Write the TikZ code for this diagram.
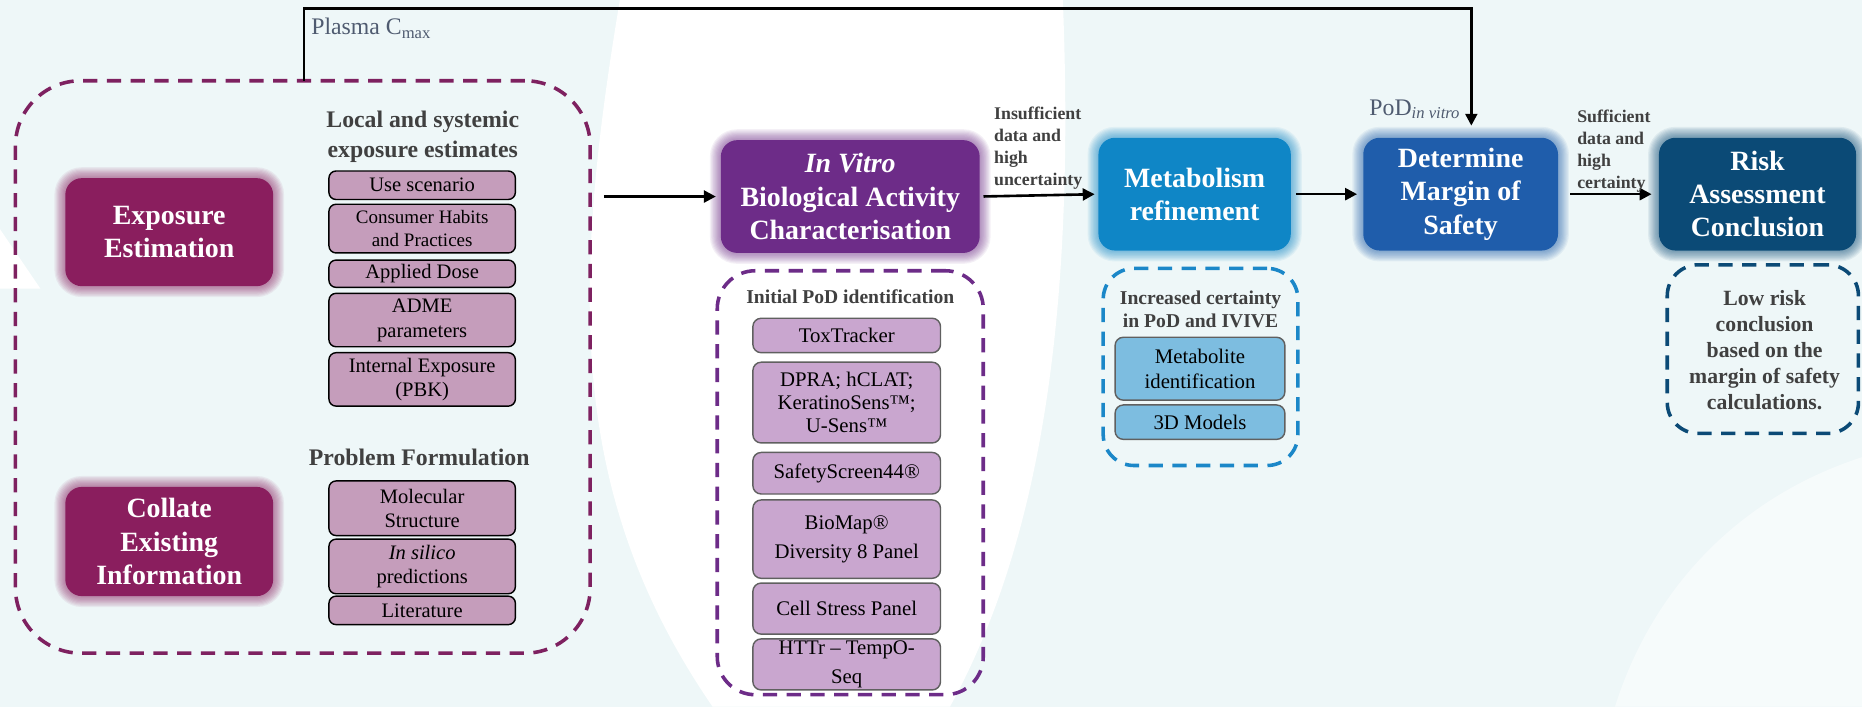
\documentclass[tikz,border=0pt]{standalone}
\usepackage{fontspec}
\setmainfont{Liberation Serif}
\usetikzlibrary{arrows.meta,calc}
\definecolor{bgc}{HTML}{EEF7F8}
\definecolor{maroon}{HTML}{8A1E5E}
\definecolor{maroonD}{HTML}{7E2160}
\definecolor{mauveL}{HTML}{C59DBB}
\definecolor{purp}{HTML}{6D2C88}
\definecolor{lavP}{HTML}{C9A6CF}
\definecolor{metab}{HTML}{0F86C6}
\definecolor{metabD}{HTML}{1B87C8}
\definecolor{lblue}{HTML}{7DBDE0}
\definecolor{detb}{HTML}{1F5DAB}
\definecolor{riskb}{HTML}{0B4A76}
\definecolor{hdrc}{HTML}{404040}
\definecolor{lblc}{HTML}{4F5B70}
\definecolor{subedge}{HTML}{606060}
\pgfdeclarelayer{bglayer}
\pgfdeclarelayer{glowlayer}
\pgfsetlayers{bglayer,glowlayer,main}
\newcommand\fs[2]{\fontsize{#1}{#2}\selectfont}
\newcommand\glowit[2]{%
  \begin{pgfonlayer}{glowlayer}
  \foreach \g in {1,...,9}{
    \pgfmathsetmacro\rr{14+\g}
    \fill[#2,opacity=0.07,rounded corners=\rr pt]
      ([xshift=-\g pt,yshift=-\g pt]#1.south west) rectangle ([xshift=\g pt,yshift=\g pt]#1.north east);
  }
  \end{pgfonlayer}}
\begin{document}
\begin{tikzpicture}[x=1pt,y=-1pt,
  mainbox/.style={rounded corners=14pt, text=white, font=\bfseries\fs{23.5}{28}, align=center, inner sep=0pt},
  subL/.style={fill=mauveL, draw=black, line width=1.2pt, rounded corners=6pt, align=center, inner sep=0pt, minimum width=157pt, font=\fs{17.3}{21}},
  subP/.style={fill=lavP, draw=subedge, line width=1.2pt, rounded corners=7pt, align=center, inner sep=0pt, minimum width=158pt, font=\fs{17.5}{19.5}},
  subB/.style={fill=lblue, draw=subedge, line width=1.2pt, rounded corners=7pt, align=center, inner sep=0pt, minimum width=143pt, font=\fs{17.5}{21}},
  hdr/.style={font=\bfseries\fs{20}{25}, text=hdrc, align=center, inner sep=0pt},
  shdr/.style={font=\bfseries\fs{16.5}{20}, text=hdrc, align=center, inner sep=0pt},
  dbox/.style={dash pattern=on 12pt off 8pt, line width=3pt, inner sep=0pt},
  arr/.style={line width=2.2pt, -{Triangle[length=10pt,width=10pt]}},
  lbl/.style={font=\bfseries\fs{15}{18.5}, text=hdrc, align=left, inner sep=0pt}
]
\useasboundingbox (0,0) rectangle (1568,595);
% background
\begin{pgfonlayer}{bglayer}
  \fill[bgc] (0,0) rectangle (1568,595);
  \fill[white] (522,0) -- (895,0) .. controls (905,250) and (880,450) .. (800,595) -- (600,595) .. controls (480,420) and (480,250) .. (522,0) -- cycle;
  \fill[white,opacity=0.5] (1568,385) .. controls (1460,420) and (1390,500) .. (1360,595) -- (1568,595) -- cycle;
  \fill[white] (0,193) -- (34,243) -- (0,243) -- cycle;
\end{pgfonlayer}

% ---------------- left group
\node[dbox, draw=maroonD, rounded corners=55pt, minimum width=484pt, minimum height=482pt] (expbox) at (255,309) {};

\node[mainbox, fill=maroon, minimum width=175pt, minimum height=91pt] (expo) at (142.5,195.5) {Exposure\\Estimation};
\glowit{expo}{maroon}
\node[mainbox, fill=maroon, minimum width=175pt, minimum height=92pt] (coll) at (142.5,456) {Collate\\Existing\\Information};
\glowit{coll}{maroon}

\node[hdr] (h1) at (356,115) {Local and systemic\\exposure estimates};
\node[subL, minimum height=24pt] (use) at (355.5,156) {Use scenario};
\node[subL, minimum height=41pt, font=\fs{16}{20}] (cons) at (355.5,192.5) {Consumer Habits\\and Practices};
\node[subL, minimum height=23pt] (dose) at (355.5,230.5) {Applied Dose};
\node[subL, minimum height=45pt] (adme) at (355.5,269.5) {ADME\\parameters};
\node[subL, minimum height=45pt, font=\fs{17.3}{20}] (intx) at (355.5,319.5) {Internal Exposure\\(PBK)};

\node[hdr] (h2) at (353,385) {Problem Formulation};
\node[subL, minimum height=46pt, font=\fs{17.3}{20.5}] (mol) at (355.5,428) {Molecular\\Structure};
\node[subL, minimum height=46pt, font=\fs{17.3}{20.5}] (sil) at (355.5,477) {\textit{In silico}\\predictions};
\node[subL, minimum height=24pt] (lit) at (355.5,514) {Literature};

% ---------------- in vitro
\node[mainbox, fill=purp, minimum width=218pt, minimum height=95pt] (inv) at (716,165.5) {\textit{In Vitro}\\Biological Activity\\Characterisation};
\glowit{inv}{purp}
\node[dbox, draw=purp, rounded corners=32pt, minimum width=224pt, minimum height=357pt] (podbox) at (716,406.5) {};
\node[shdr] (h3) at (716,250) {Initial PoD identification};
\node[subP, minimum height=29pt] (tox) at (713,282.5) {ToxTracker};
\node[subP, minimum height=68pt] (dpra) at (713,339) {DPRA; hCLAT;\\KeratinoSens™;\\U-Sens™};
\node[subP, minimum height=35pt] (ss) at (713,398.5) {SafetyScreen44®};
\node[subP, minimum height=66pt, font=\fs{17.5}{24}] (bio) at (713,454) {BioMap®\\Diversity 8 Panel};
\node[subP, minimum height=43pt] (cell) at (713,512.5) {Cell Stress Panel};
\node[subP, minimum height=43pt, font=\fs{17.5}{24}] (httr) at (713,559.5) {HTTr -- TempO-\\Seq};

% ---------------- metabolism
\node[mainbox, fill=metab, minimum width=162pt, minimum height=95pt] (met) at (1006,163.5) {Metabolism\\refinement};
\glowit{met}{metab}
\node[dbox, draw=metabD, rounded corners=26pt, minimum width=164pt, minimum height=166pt] (metbox) at (1011,309) {};
\node[shdr] (h4) at (1011,260.5) {Increased certainty\\in PoD and IVIVE};
\node[subB, minimum height=53pt] (mid) at (1010.5,310.5) {Metabolite\\identification};
\node[subB, minimum height=29pt] (m3d) at (1010.5,355.5) {3D Models};

% ---------------- determine / risk
\node[mainbox, fill=detb, minimum width=164pt, minimum height=95pt] (det) at (1230,163.5) {Determine\\Margin of\\Safety};
\glowit{det}{detb}
\node[mainbox, fill=riskb, minimum width=166pt, minimum height=95pt] (risk) at (1480,163.5) {Risk\\Assessment\\Conclusion};
\glowit{risk}{riskb}
\node[dbox, draw=riskb, rounded corners=26pt, minimum width=161pt, minimum height=142pt] (riskbox) at (1484.5,294) {};
\node[font=\bfseries\fs{18.3}{22}, text=hdrc, align=center, inner sep=0pt] (low) at (1486,295) {Low risk\\conclusion\\based on the\\margin of safety\\calculations.};

% ---------------- connectors
\draw[arr, shorten <=10pt, shorten >=4pt] (expbox.east |- inv.west) -- (inv.west);
\draw[arr, shorten <=3pt, shorten >=3pt] (inv.east) -- (met.west);
\draw[arr, shorten <=4pt, shorten >=5pt] (met.east) -- (det.west);
\draw[arr, shorten <=10pt, shorten >=6pt] (det.east) -- (risk.west);

\coordinate (plS) at (256,68);
\coordinate (plT) at (256,7);
\draw[arr, shorten >=10pt] (plS) -- (plT) -| ([xshift=9pt]det.north);

\node[font=\fs{20}{22}, text=lblc, anchor=west, inner sep=0pt] (plasma) at (262,24) {Plasma C\textsubscript{max}};
\node[font=\fs{20}{22}, text=lblc, anchor=west, inner sep=0pt] (podv) at (1153,92) {PoD\textsubscript{\textit{in vitro}}};

\node[lbl, anchor=west] (insuf) at (837,125) {Insufficient\\data and\\high\\uncertainty};
\node[lbl, anchor=west] (suff) at (1328,127) {Sufficient\\data and\\high\\certainty};
\end{tikzpicture}
\end{document}
